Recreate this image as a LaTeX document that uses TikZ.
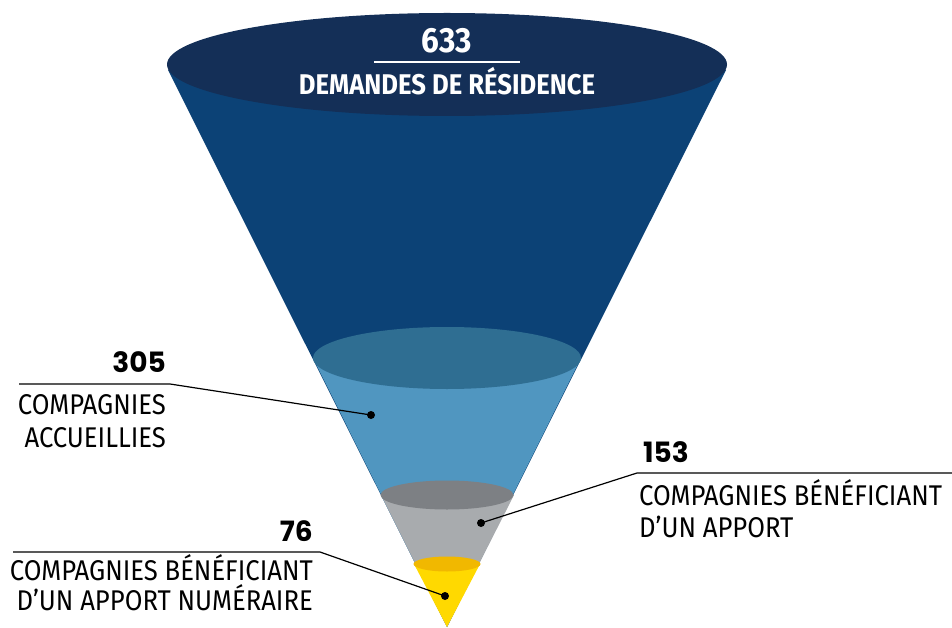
\documentclass[tikz,border=0pt]{standalone}
\usepackage{fontspec}
\setmainfont{Fira Sans}[FakeStretch=0.9]
\newfontfamily\numfont{Poppins}
\usetikzlibrary{positioning}

\definecolor{topcap}{HTML}{142F57}
\definecolor{deepblue}{HTML}{0C4276}
\definecolor{midcap}{HTML}{2F6E92}
\definecolor{skyblue}{HTML}{5096C0}
\definecolor{greycap}{HTML}{7D8084}
\definecolor{greybody}{HTML}{A8ABAE}
\definecolor{goldcap}{HTML}{F1B800}
\definecolor{goldbody}{HTML}{FFD900}

\tikzset{
	labeltext/.style={font=\fontsize{28.5}{32}\selectfont, inner sep=0pt},
	count/.style={font=\numfont\bfseries\fontsize{28}{32}\selectfont, inner sep=0pt},
	leader/.style={draw, line width=1.2pt},
	dot/.style={circle, fill=black, inner sep=0pt, minimum size=8pt},
}

\begin{document}
\begin{tikzpicture}[x=1pt, y=-1pt]
	\useasboundingbox (0,0) rectangle (952,628);

	% funnel body, top to bottom
	\coordinate (apex) at (447,627);
	\fill[deepblue] (168,70) -- (apex) -- (726,70) -- cycle;
	\fill[skyblue] (313,358) -- (apex) -- (581,358) -- cycle;
	\fill[midcap] (447,358) ellipse [x radius=134, y radius=31];
	\fill[greybody] (381,495) -- (apex) -- (514,495) -- cycle;
	\fill[greycap] (447,495) ellipse [x radius=66.5, y radius=14.5];
	\fill[goldbody] (414,564) -- (apex) -- (480,564) -- cycle;
	\fill[goldcap] (447,564) ellipse [x radius=33.5, y radius=7.5];
	\fill[topcap] (447,64.5) ellipse [x radius=280, y radius=51.5];

	% top label
	\node[font=\bfseries\fontsize{35}{38}\selectfont, text=white, inner sep=0pt, anchor=base] (numTop) at (447,53) {633};
	\coordinate (ruleTopL) at (374,62);
	\coordinate (ruleTopR) at (520,62);
	\draw[white, line width=1.5pt] (ruleTopL) -- (ruleTopR);
	\node[font=\bfseries\fontsize{28.5}{32}\selectfont, text=white, inner sep=0pt, anchor=base] (txtTop) at (447,95) {DEMANDES DE RÉSIDENCE};

	% accueillies
	\node[dot] (dotAcc) at (371,415) {};
	\node[count, anchor=base east] (numAcc) at (166,372) {305};
	\coordinate (ruleAccL) at (19,384);
	\coordinate (ruleAccR) at (170,384);
	\node[labeltext, anchor=base east] (txtAccA) at (166,414) {COMPAGNIES};
	\node[labeltext, anchor=base east] (txtAccB) at (166,447) {ACCUEILLIES};
	\path [leader] (ruleAccL) -- (ruleAccR) -- (dotAcc.center);

	% apport
	\node[dot] (dotApp) at (481,523) {};
	\node[count, anchor=base west] (numApp) at (643,462) {153};
	\coordinate (ruleAppL) at (637,473);
	\coordinate (ruleAppR) at (952,473);
	\node[labeltext, anchor=base west] (txtAppA) at (639,505) {COMPAGNIES BÉNÉFICIANT};
	\node[labeltext, anchor=base west] (txtAppB) at (639,537) {D’UN APPORT};
	\path [leader] (ruleAppR) -- (ruleAppL) -- (dotApp.center);

	% apport numeraire
	\node[dot] (dotNum) at (445,596) {};
	\node[count, anchor=base east] (numNum) at (313,541) {76};
	\coordinate (ruleNumL) at (13,552);
	\coordinate (ruleNumR) at (320,552);
	\node[labeltext, anchor=base east] (txtNumA) at (313,580) {COMPAGNIES BÉNÉFICIANT};
	\node[labeltext, anchor=base east] (txtNumB) at (313,610) {D’UN APPORT NUMÉRAIRE};
	\path [leader] (ruleNumL) -- (ruleNumR) -- (dotNum.center);
\end{tikzpicture}
\end{document}
